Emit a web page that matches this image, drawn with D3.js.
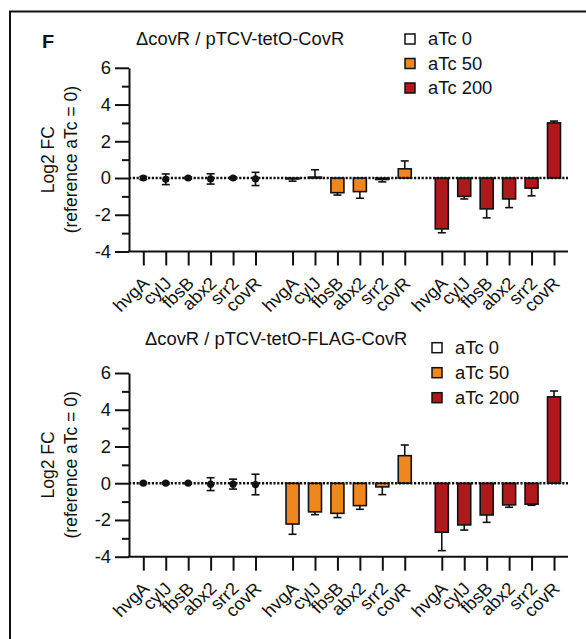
<!DOCTYPE html>
<html>
<head>
<meta charset="utf-8">
<script src="https://cdn.jsdelivr.net/npm/d3@7"></script>
<style>
  body { margin: 0; background: #fff; }
  text { font-family: "Liberation Sans", Arial, sans-serif; fill: #111; }
  .axis path, .axis line { stroke: #111; stroke-width: 2; }
</style>
</head>
<body>
<div id="main"></div>
<script>
const genes = ["hvgA", "cylJ", "fbsB", "abx2", "srr2", "covR"];
const levels = ["aTc 0", "aTc 50", "aTc 200"];
const levelColors = ["#ffffff", "#f0861f", "#b0191c"];
const yTicks = [-4, -2, 0, 2, 4, 6];
const yMinor = [-3, -1, 1, 3, 5];
const titles = ["\u0394covR / pTCV-tetO-CovR", "\u0394covR / pTCV-tetO-FLAG-CovR"];

// panel 1 : mean log2 FC per level, then error (SD)
const p1_mean = [
    [0, -0.07, 0, -0.05, 0, -0.05],
    [-0.05, 0.05, -0.8, -0.74, -0.08, 0.5],
    [-2.77, -1.0, -1.68, -1.14, -0.55, 3.0]
];
const p1_err = [
    [0.08, 0.29, 0.05, 0.28, 0.05, 0.36],
    [0.12, 0.4, 0.13, 0.36, 0.13, 0.43],
    [0.21, 0.14, 0.49, 0.47, 0.42, 0.1]
];
// panel 2
const p2_mean = [
    [0, 0, 0, -0.05, -0.05, -0.07],
    [-2.22, -1.56, -1.64, -1.22, -0.2, 1.5],
    [-2.67, -2.27, -1.73, -1.18, -1.14, 4.7]
];
const p2_err = [
    [0.04, 0.05, 0.04, 0.35, 0.27, 0.56],
    [0.56, 0.15, 0.23, 0.2, 0.42, 0.58],
    [1.0, 0.28, 0.4, 0.13, 0.06, 0.32]
];

const ctx = {
    W: 586,
    H: 639,
    SX: 1.05,       // source picture is slightly stretched horizontally
    FS: 17.5,
    GAP: 0.65,
    BAR_W: 13,
};

function sx(x, y) {
    return "translate(" + x + "," + y + ") scale(" + ctx.SX + ",1)";
}

function drawPanel(svg, cfg) {
    let g = svg.append("g");
    let x = d3.scaleLinear()
        .domain([0, 2 * (genes.length + ctx.GAP) + genes.length - 1])
        .range([143.3, 554]);
    let y = d3.scaleLinear().domain([-4, 6]).range([cfg.y0, cfg.y1]);
    let slot = (li, gi) => li * (genes.length + ctx.GAP) + gi;

    let rows = [];
    levels.forEach((lv, li) => {
        genes.forEach((gn, gi) => {
            rows.push({li: li, gi: gi, v: cfg.mean[li][gi], e: cfg.err[li][gi]});
        });
    });

    // y axis (major + minor)
    g.append("g")
        .attr("class", "axis")
        .attr("transform", "translate(129,0)")
        .call(d3.axisLeft(y).tickValues(yMinor).tickSize(7).tickFormat(""))
        .select(".domain").remove();
    g.append("g")
        .attr("class", "axis")
        .attr("transform", "translate(129,0)")
        .call(d3.axisLeft(y).tickValues(yTicks).tickSize(14).tickSizeOuter(0).tickFormat(""));
    g.selectAll(".ylab")
        .data(yTicks)
        .enter()
        .append("text")
        .attr("transform", d => sx(111, y(d)))
        .attr("dy", "0.36em")
        .attr("text-anchor", "end")
        .attr("font-size", ctx.FS)
        .text(d => d);

    // x axis
    let ticks = rows.map(r => slot(r.li, r.gi));
    g.append("g")
        .attr("class", "axis")
        .attr("transform", "translate(0," + cfg.y0 + ")")
        .call(d3.axisBottom(x).tickValues(ticks).tickSize(14).tickSizeOuter(0).tickFormat(""))
        .select(".domain").attr("d", "M128,0H568");
    g.selectAll(".xlab")
        .data(rows)
        .enter()
        .append("text")
        .attr("transform", d => sx(x(slot(d.li, d.gi)) + 7, cfg.y0 + 33) + " rotate(-45)")
        .attr("text-anchor", "end")
        .attr("font-size", ctx.FS)
        .text(d => genes[d.gi]);

    // bars
    let bars = rows.filter(r => r.li > 0);
    g.selectAll(".bar")
        .data(bars)
        .enter()
        .append("rect")
        .attr("x", d => x(slot(d.li, d.gi)) - ctx.BAR_W / 2)
        .attr("y", d => y(Math.max(0, d.v)))
        .attr("width", ctx.BAR_W)
        .attr("height", d => Math.abs(y(d.v) - y(0)))
        .attr("fill", d => levelColors[d.li])
        .attr("stroke", "#111")
        .attr("stroke-width", 1.6);

    // error bars: outward only for bars, both ways for the reference dots
    let eb = g.append("g").attr("stroke", "#111").attr("stroke-width", 1.6);
    rows.forEach(d => {
        let cx = x(slot(d.li, d.gi));
        let ends = d.li === 0 ? [d.v + d.e, d.v - d.e] : [d.v + (d.v >= 0 ? d.e : -d.e)];
        let from = d.li === 0 ? d.v - d.e : d.v;
        eb.append("line")
            .attr("x1", cx).attr("x2", cx)
            .attr("y1", y(from)).attr("y2", y(ends[0]));
        ends.forEach(v => {
            eb.append("line")
                .attr("x1", cx - 4).attr("x2", cx + 4)
                .attr("y1", y(v)).attr("y2", y(v));
        });
    });

    // zero line
    g.append("line")
        .attr("x1", 129).attr("x2", 568)
        .attr("y1", y(0)).attr("y2", y(0))
        .attr("stroke", "#111")
        .attr("stroke-width", 2.4)
        .attr("stroke-dasharray", "2.2,1.6");

    g.selectAll(".dot")
        .data(rows.filter(r => r.li === 0))
        .enter()
        .append("circle")
        .attr("cx", d => x(slot(d.li, d.gi)))
        .attr("cy", d => y(d.v))
        .attr("r", 3.6)
        .attr("fill", "#111");

    // y axis title
    let cy = (cfg.y0 + cfg.y1) / 2;
    g.append("text")
        .attr("transform", sx(54, cy) + " rotate(-90)")
        .attr("text-anchor", "middle")
        .attr("font-size", ctx.FS)
        .text("Log2 FC");
    g.append("text")
        .attr("transform", sx(77, cy) + " rotate(-90)")
        .attr("text-anchor", "middle")
        .attr("font-size", ctx.FS)
        .text("(reference aTc = 0)");

    // title
    g.append("text")
        .attr("transform", sx(cfg.tx, cfg.ty))
        .attr("font-size", ctx.FS)
        .text(cfg.title);

    // legend
    let lg = g.selectAll(".leg")
        .data(levels)
        .enter()
        .append("g")
        .attr("transform", (d, i) => "translate(" + cfg.lx + "," + (cfg.ly + i * cfg.ldy) + ")");
    lg.append("rect")
        .attr("x", 0).attr("y", -5)
        .attr("width", 10).attr("height", 10)
        .attr("fill", (d, i) => levelColors[i])
        .attr("stroke", "#111")
        .attr("stroke-width", 1.5);
    lg.append("text")
        .attr("transform", sx(23, 6))
        .attr("font-size", ctx.FS)
        .text(d => d);
}

function createViz() {
    let svg = d3.select("#main").append("svg")
        .attr("width", ctx.W)
        .attr("height", ctx.H);

    svg.append("rect")
        .attr("x", 10).attr("y", 11.5)
        .attr("width", 700).attr("height", 800)
        .attr("fill", "none")
        .attr("stroke", "#111")
        .attr("stroke-width", 2);

    svg.append("text")
        .attr("transform", sx(42, 48))
        .attr("font-size", 19)
        .attr("font-weight", "bold")
        .text("F");

    drawPanel(svg, {
        mean: p1_mean, err: p1_err, y0: 251.5, y1: 67.8,
        title: titles[0], tx: 136, ty: 45,
        lx: 405, ly: 39, ldy: 24.5
    });
    drawPanel(svg, {
        mean: p2_mean, err: p2_err, y0: 556.7, y1: 373,
        title: titles[1], tx: 145, ty: 345,
        lx: 432, ly: 347.7, ldy: 25
    });
}

createViz();
</script>
</body>
</html>
